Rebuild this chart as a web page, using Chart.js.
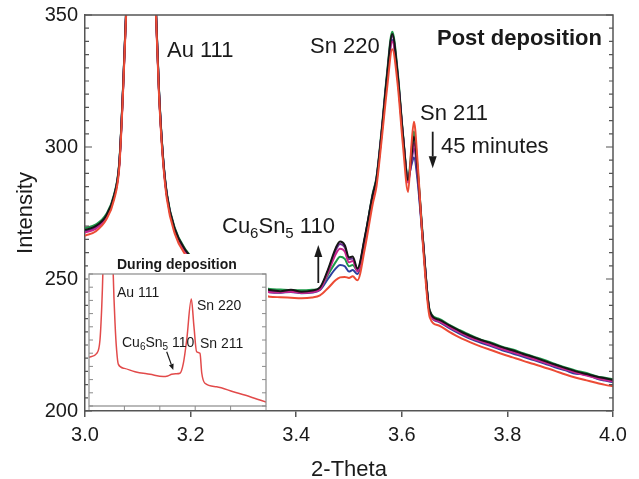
<!DOCTYPE html>
<html><head><meta charset="utf-8">
<script src="https://cdn.jsdelivr.net/npm/chart.js@4.4.1/dist/chart.umd.min.js"></script>
<style>
html,body{margin:0;padding:0;background:#fff;}
#wrap{position:relative;width:639px;height:479px;overflow:hidden;}
#main{position:absolute;left:0;top:0;}
#inset{position:absolute;left:88px;top:254px;background:#fff;}
</style></head><body>
<div id="wrap"><canvas id="main" width="639" height="479"></canvas><canvas id="inset" width="180" height="156"></canvas></div>
<script>
const FONT = "'Liberation Sans', Arial, Helvetica, sans-serif";
const NARROW = "'Liberation Sans Narrow', 'Arial Narrow', 'Liberation Sans', Arial, sans-serif";

// ---- main chart data (2-Theta vs Intensity) ----
const twoTheta = [3.000,3.020,3.040,3.055,3.065,3.072,3.078,3.090,3.106,3.120,3.134,3.140,3.147,3.155,3.170,3.190,3.210,3.250,3.300,3.350,3.370,3.390,3.410,3.430,3.445,3.460,3.475,3.483,3.492,3.500,3.507,3.516,3.530,3.545,3.552,3.562,3.572,3.582,3.592,3.602,3.612,3.618,3.623,3.630,3.640,3.653,3.670,3.690,3.710,3.730,3.750,3.770,3.790,3.810,3.830,3.850,3.870,3.890,3.910,3.930,3.950,3.970,3.985,4.000];

const scanBlack = [268.6,270.0,274.0,281.5,294.0,322.0,352.0,430,520,430,354,322,298,282,269,261,256.5,251.5,248,245.8,245.4,245.9,245.2,245.6,246.8,253.5,261.8,264.2,262.8,258.2,258.5,254.0,266,282,288,306,327,342.8,328,305,287.5,296,304,291,265,237.8,234.6,232.4,230.3,228.4,226.9,225.6,224.2,223.0,221.6,220.4,219.0,217.6,216.3,215.0,214.0,213.0,212.4,211.8];
const scanGreen = [269.3,270.6,274.5,282,294.5,322.5,352.5,430,520,430,354.5,322.5,298.5,282.5,269.4,261.3,256.8,251.8,248.2,246.2,246.0,245.8,245.7,245.9,246.5,251.5,256.5,258.4,257.6,254.8,255.3,253.2,265.5,282.5,288.5,307,328,343.7,329,305.5,288.2,298,306,292,265.5,238.0,235.0,232.6,230.6,228.7,227.0,225.9,224.4,223.3,221.9,220.6,219.3,217.8,216.5,215.3,214.4,213.1,212.6,212.0];
const scanBlue = [268.0,269.4,273.6,281.2,293.6,321.6,351.6,430,520,430,353.6,321.8,297.8,281.8,268.6,260.6,256.0,251.0,247.4,245.0,244.8,245.1,244.6,244.9,245.8,250.0,254.0,255.3,254.8,252.8,253.4,251.9,264.5,281.5,287.5,305.5,326,340.5,327,304.5,288.5,293,296,287,264,237.2,233.8,231.4,229.2,227.3,225.8,224.5,223.0,221.8,220.5,219.3,218.0,216.6,215.4,214.1,213.9,212.2,211.5,210.9];
const scanPurple = [268.2,269.6,273.8,281.4,293.8,321.8,351.8,430,520,430,353.8,322,298,282,268.8,260.8,256.2,251.2,247.6,245.3,245.0,245.4,244.9,245.2,246.4,253.0,261.0,263.3,262.0,257.5,257.8,253.4,265.5,281.8,287.8,306,326.5,342.0,327.5,304.8,287.5,294,299.5,289,264.5,237.5,234.2,231.9,229.8,228.0,226.3,225.1,223.7,222.5,221.2,219.9,218.6,217.2,216.0,214.6,213.6,212.6,212.0,211.4];
const scanMagenta = [267.6,269.0,273.3,280.9,293.3,321.3,351.3,430,520,430,353.3,321.4,297.4,281.4,268.3,260.4,255.9,250.9,247.3,245.0,244.9,245.2,244.7,245.0,246.0,252.2,259.5,261.5,260.4,256.3,256.8,252.8,264.8,281.0,287.0,305.2,325.5,340.0,326.5,304.2,286.5,295,301.5,290,264.8,237.0,234.0,231.8,229.7,227.7,226.4,224.9,223.5,222.2,221.0,219.6,218.4,217.0,215.7,214.5,213.4,212.4,211.7,211.2];
const scanRed = [266.4,268.0,272.4,280.0,292.5,320.5,350.5,430,520,430,352.5,320.5,296.5,280.4,267.2,259.2,254.8,249.8,246.0,243.3,243.1,242.9,242.7,243.0,243.8,246.5,249.6,250.6,250.8,250.4,251.0,249.5,261.5,278.5,285,303,322,337.0,324,301,283.0,300,309.6,294,263,235.5,232.4,230.0,227.8,226.0,224.4,223.0,221.6,220.3,219.0,217.8,216.5,215.2,213.8,212.6,211.6,210.6,209.9,209.4];

const xTicks = [3.0, 3.2, 3.4, 3.6, 3.8, 4.0];
const yTicks = [200, 250, 300, 350];
const yMinorStep = 5;

// ---- inset data (during deposition) ----
const insetTwoTheta = [3.000,3.044,3.062,3.072,3.078,3.090,3.107,3.125,3.137,3.147,3.156,3.166,3.200,3.260,3.345,3.420,3.445,3.467,3.490,3.514,3.533,3.552,3.578,3.593,3.608,3.627,3.637,3.655,3.721,3.815,3.910,4.000];
const insetIntensity = [37.0,39.9,50.0,75.2,99.2,180,230,180,99.2,62.9,42.4,31.5,28.5,26.0,24.0,22.3,22.8,24.0,24.4,24.8,32.3,50.0,81.0,60.1,41.1,39.9,25.0,17.2,14.6,10.8,7.0,3.0];
const insetXTicks = [3.0, 3.2, 3.4, 3.6, 3.8, 4.0];
const insetYStep = 10;

const series = [
  {name:'0 min', values: scanRed, color:'#ec4b35'},
  {name:'black', values: scanBlack, color:'#161616'},
  {name:'magenta', values: scanMagenta, color:'#c8248c'},
  {name:'purple', values: scanPurple, color:'#6b2c8f'},
  {name:'green', values: scanGreen, color:'#1e9b4a'},
  {name:'blue', values: scanBlue, color:'#2b3f9e'}
];

function drawRich(ctx, parts, x, y, size, subSize, subDrop, weight, family) {
  let cx = x;
  for (const p of parts) {
    const s = p.sub ? subSize : size;
    ctx.font = `${weight || 'normal'} ${s}px ${family || FONT}`;
    ctx.fillText(p.t, cx, y + (p.sub ? subDrop : 0));
    cx += ctx.measureText(p.t).width;
  }
}
function arrow(ctx, x1, y1, x2, y2, head, hw, lw) {
  const ang = Math.atan2(y2 - y1, x2 - x1);
  const bx = x2 - head * Math.cos(ang), by = y2 - head * Math.sin(ang);
  ctx.lineWidth = lw;
  ctx.beginPath(); ctx.moveTo(x1, y1); ctx.lineTo(bx, by); ctx.stroke();
  ctx.beginPath(); ctx.moveTo(x2, y2);
  ctx.lineTo(bx + hw * Math.sin(ang), by - hw * Math.cos(ang));
  ctx.lineTo(bx - hw * Math.sin(ang), by + hw * Math.cos(ang));
  ctx.closePath(); ctx.fill();
}

const mainDecor = {
  id: 'mainDecor',
  afterDraw(chart) {
    const {ctx, chartArea: a, scales: {y}} = chart;
    ctx.save();
    ctx.strokeStyle = '#555'; ctx.lineWidth = 1.5;
    ctx.beginPath(); ctx.moveTo(a.left, a.top); ctx.lineTo(a.right, a.top); ctx.lineTo(a.right, a.bottom); ctx.stroke();
    ctx.lineWidth = 1.2;
    for (let v = y.min; v <= y.max; v += yMinorStep) {
      const py = y.getPixelForValue(v);
      const len = (v % 50 === 0) ? 7 : 4;
      ctx.beginPath();
      ctx.moveTo(a.left, py); ctx.lineTo(a.left + len, py);
      ctx.moveTo(a.right, py); ctx.lineTo(a.right - len, py);
      ctx.stroke();
    }
    ctx.fillStyle = '#1a1a1a'; ctx.strokeStyle = '#1a1a1a';
    ctx.textAlign = 'left'; ctx.textBaseline = 'alphabetic';
    ctx.font = `22px ${FONT}`;
    ctx.fillText('Au 111', 167, 57);
    ctx.fillText('Sn 220', 310, 53);
    ctx.fillText('Sn 211', 420, 120);
    ctx.fillText('45 minutes', 441, 153);
    drawRich(ctx, [{t:'Cu'},{t:'6',sub:true},{t:'Sn'},{t:'5',sub:true},{t:' 110'}], 222, 233, 22, 15, 5);
    ctx.font = `bold 22px ${FONT}`;
    ctx.textAlign = 'right';
    ctx.fillText('Post deposition', 602, 45);
    arrow(ctx, 318.3, 283, 318.3, 245, 12, 4, 1.8);
    arrow(ctx, 432.7, 131.7, 432.7, 168.3, 12, 4, 1.8);
    ctx.restore();
  }
};

new Chart(document.getElementById('main'), {
  type: 'line',
  data: {
    datasets: series.map(s => ({
      label: s.name,
      data: twoTheta.map((x, i) => ({x, y: s.values[i]})),
      borderColor: s.color, borderWidth: 2, pointRadius: 0, fill: false,
      cubicInterpolationMode: 'monotone'
    }))
  },
  options: {
    responsive: false, animation: false, devicePixelRatio: 1,
    layout: {padding: {top: 15, right: 26, left: 0, bottom: 0}},
    plugins: {legend: {display: false}, tooltip: {enabled: false}},
    scales: {
      x: {
        type: 'linear', min: 3.0, max: 4.0,
        afterBuildTicks: s => { s.ticks = xTicks.map(v => ({value: v})); },
        afterFit: s => { s.height = 68; },
        grid: {display: true, drawOnChartArea: false, drawTicks: true, tickLength: 6, color: '#555', lineWidth: 1.5},
        border: {display: true, color: '#555', width: 1.5},
        ticks: {padding: 6, color: '#1a1a1a', font: {size: 20, family: FONT}, maxRotation: 0, autoSkip: false, callback: v => Number(v).toFixed(1)},
        title: {display: true, text: '2-Theta', color: '#1a1a1a', font: {size: 22, family: FONT, lineHeight: 0.8}, padding: 0}
      },
      y: {
        type: 'linear', min: 200, max: 350,
        afterBuildTicks: s => { s.ticks = yTicks.map(v => ({value: v})); },
        afterFit: s => { s.width = 85; },
        grid: {display: false, drawTicks: true, tickLength: 7},
        border: {display: true, color: '#555', width: 1.5},
        ticks: {padding: 0, color: '#1a1a1a', font: {size: 20, family: FONT, lineHeight: 1.0}},
        title: {display: true, text: 'Intensity', color: '#1a1a1a', font: {size: 22, family: FONT, lineHeight: 1.2}, padding: {top: 12.6, bottom: 0}}
      }
    }
  },
  plugins: [mainDecor]
});

const insetDecor = {
  id: 'insetDecor',
  afterDraw(chart) {
    const {ctx, chartArea: a, scales: {x, y}} = chart;
    ctx.save();
    ctx.strokeStyle = '#8a8a8a'; ctx.lineWidth = 1.2;
    ctx.strokeRect(a.left, a.top, a.right - a.left, a.bottom - a.top);
    ctx.lineWidth = 1;
    for (let v = y.min; v <= y.max; v += insetYStep) {
      const py = y.getPixelForValue(v);
      ctx.beginPath();
      ctx.moveTo(a.left, py); ctx.lineTo(a.left + 4, py);
      ctx.moveTo(a.right, py); ctx.lineTo(a.right - 4, py);
      ctx.stroke();
    }
    for (const v of insetXTicks) {
      const px = x.getPixelForValue(v);
      ctx.beginPath(); ctx.moveTo(px, a.bottom); ctx.lineTo(px, a.bottom + 4); ctx.stroke();
    }
    ctx.fillStyle = '#1a1a1a'; ctx.strokeStyle = '#1a1a1a';
    ctx.textAlign = 'left'; ctx.textBaseline = 'alphabetic';
    ctx.font = `bold 14px ${FONT}`;
    ctx.fillText('During deposition', 29, 14.5);
    ctx.font = `14px ${NARROW}`;
    ctx.fillText('Au 111', 29, 43.3);
    ctx.fillText('Sn 220', 109, 56);
    ctx.fillText('Sn 211', 112, 94.3);
    drawRich(ctx, [{t:'Cu'},{t:'6',sub:true},{t:'Sn'},{t:'5',sub:true},{t:' 110'}], 34, 92.7, 14, 10, 3, 'normal', NARROW);
    arrow(ctx, 78.7, 97.7, 85.3, 116, 6, 2.5, 1.2);
    ctx.restore();
  }
};

new Chart(document.getElementById('inset'), {
  type: 'line',
  data: {
    datasets: [{
      label: 'during deposition',
      data: insetTwoTheta.map((x, i) => ({x, y: insetIntensity[i]})),
      borderColor: '#e24a4a', borderWidth: 1.5, pointRadius: 0, fill: false,
      cubicInterpolationMode: 'monotone'
    }]
  },
  options: {
    responsive: false, animation: false, devicePixelRatio: 1,
    layout: {padding: {top: 20, right: 2, left: 1, bottom: 4}},
    plugins: {legend: {display: false}, tooltip: {enabled: false}},
    scales: {
      x: {type: 'linear', min: 3.0, max: 4.0, display: false},
      y: {type: 'linear', min: 0, max: 100, display: false}
    }
  },
  plugins: [insetDecor]
});
</script>
</body></html>
